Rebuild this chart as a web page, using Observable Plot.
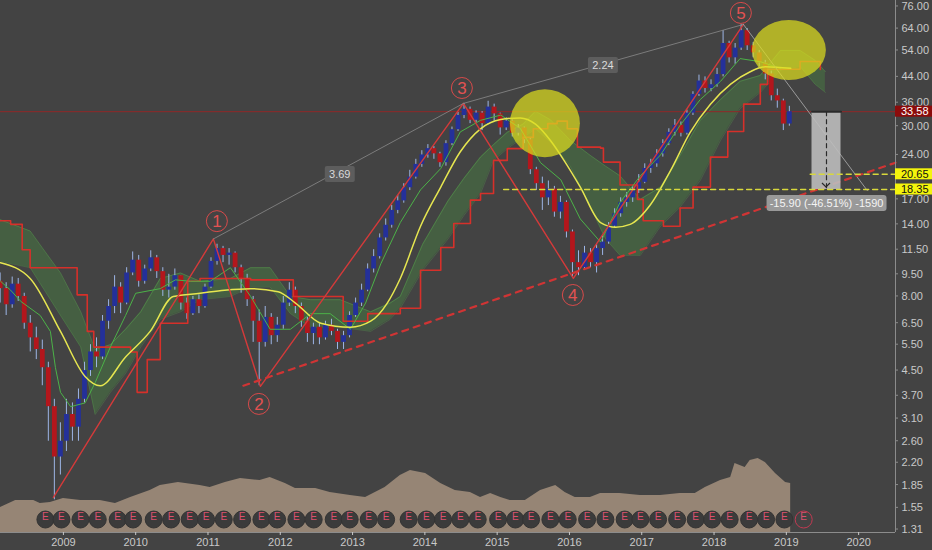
<!DOCTYPE html>
<html><head><meta charset="utf-8">
<script src="https://cdn.jsdelivr.net/npm/d3@7"></script>
<script src="https://cdn.jsdelivr.net/npm/@observablehq/plot@0.6"></script>
<style>
html,body{margin:0;padding:0;background:#434343;}
#chart{position:relative;width:932px;height:550px;background:#434343;overflow:hidden;}
#chart svg{position:absolute;left:0;top:0;}
</style></head><body><div id="chart"></div>
<script>
// ---------- DATA ----------
const firstOpen = 9.0;
const closes = [8.5,7.5,8.8,8.0,6.5,5.8,5.3,4.6,3.4,2.3,2.6,3.2,
 2.9,3.6,4.5,5.2,5.0,6.6,7.4,8.6,7.6,9.6,10.6,9.0,
 9.9,10.8,9.7,8.4,8.6,9.4,7.6,7.0,7.8,7.4,8.6,10.5,
 11.6,11.0,11.2,10.0,9.2,7.8,6.6,5.6,6.8,5.9,6.4,7.6,
 8.4,7.4,6.6,6.0,6.3,5.8,6.4,6.1,5.6,5.9,6.9,7.6,
 8.4,9.9,10.9,12.6,13.9,15.6,16.8,18.6,20.2,22.3,24.0,25.2,
 24.2,22.6,26.2,29.2,32.6,34.2,31.4,33.2,30.6,34.8,33.0,29.6,
 31.2,28.4,29.6,27.0,21.4,19.2,17.2,18.4,15.4,16.6,13.2,10.4,
 10.0,11.2,10.4,11.6,12.2,13.8,15.2,16.6,17.2,18.2,19.4,21.6,
 22.4,24.2,26.2,28.6,30.2,28.4,33.2,38.4,42.6,40.2,41.4,44.8,
 57.0,51.0,55.0,63.0,56.0,53.0,49.0,45.0,38.0,36.5,30.5,33.58];
const highs = [9.6,8.9,9.3,9.2,8.2,6.9,6.3,5.7,4.8,3.6,3.0,3.6,
 3.5,3.9,4.8,5.5,5.8,6.9,7.8,9.4,8.9,10.0,11.3,11.0,
 10.2,11.4,11.0,10.0,9.5,9.9,9.4,7.9,8.0,8.1,8.8,10.8,
 12.0,11.8,11.6,11.3,10.2,9.5,8.0,7.2,7.4,7.0,6.8,8.0,
 8.9,8.6,7.6,6.8,6.5,6.5,6.6,6.7,6.2,6.1,7.1,7.9,
 8.8,10.3,11.5,13.0,14.6,16.2,17.5,19.2,21.3,23.2,24.8,26.0,
 25.6,24.5,26.8,29.8,33.4,35.8,34.8,33.8,33.6,36.4,35.6,33.2,
 32.0,31.5,30.4,29.8,27.4,21.8,20.2,19.6,18.8,17.4,16.8,13.4,
 11.4,11.8,11.6,12.0,12.8,14.2,15.8,17.2,17.9,18.8,20.6,22.4,
 23.2,25.0,27.0,29.4,31.6,31.0,34.0,39.2,44.6,44.0,43.0,47.0,
 63.0,58.0,57.0,66.0,64.0,57.5,54.0,50.0,46.0,40.0,37.0,35.0];
const lows = [7.6,6.9,7.3,7.7,6.2,5.2,4.9,4.0,2.6,1.65,2.0,2.4,
 2.6,2.6,3.5,4.3,4.6,4.9,6.2,7.0,7.0,7.5,9.4,8.6,
 8.8,9.7,9.2,8.0,7.9,8.4,7.2,6.7,6.9,7.0,7.3,8.5,
 10.2,10.4,10.2,9.6,8.2,7.4,5.6,4.0,5.4,5.5,5.6,6.2,
 7.4,7.0,6.3,5.6,5.5,5.5,5.7,5.9,5.3,5.3,5.8,6.8,
 7.4,8.3,9.6,10.7,12.3,13.6,15.2,16.5,18.2,19.9,21.8,23.4,
 23.2,21.8,22.0,25.8,28.8,31.8,30.6,30.8,29.0,30.4,31.2,28.0,
 29.0,27.6,27.8,26.2,20.6,18.2,15.6,16.2,14.8,14.6,12.6,9.3,
 9.4,9.8,10.0,9.6,11.0,12.0,13.6,14.8,16.0,16.6,17.8,19.2,
 20.8,21.8,23.6,25.8,27.8,27.6,28.0,32.6,37.8,38.8,39.2,40.6,
 44.0,49.0,48.5,54.0,54.0,51.0,47.5,43.0,36.5,34.5,29.0,30.0];

const maDates  = [2008.13,2008.54,2008.96,2009.30,2009.51,2009.86,2010.20,2010.52,2010.89,2011.23,2011.59,2011.97,2012.21,2012.56,2012.97,2013.25,2013.48,2013.66,2013.94,2014.22,2014.49,2014.77,2015.05,2015.32,2015.53,2015.74,2015.94,2016.15,2016.43,2016.64,2016.84,2017.12,2017.40,2017.67,2017.95,2018.23,2018.50,2018.71,2019.06];
const maValues = [10.4,9.2,6.1,4.3,4.0,5.0,6.1,8.0,8.2,8.4,8.5,8.3,7.6,6.5,6.3,6.6,7.6,9.2,13.8,18.7,24.6,29.4,31.6,32.0,30.5,26.8,22.7,18.7,14.2,13.7,14.0,16.3,21.3,28.6,35.6,41.6,45.8,47.6,47.0];

const baseDates  = [2008.13,2008.27,2008.41,2008.68,2008.82,2008.89,2008.96,2009.10,2009.30,2009.44,2009.65,2009.86,2010.00,2010.34,2010.55,2010.76,2011.03,2011.31,2011.59,2011.86,2012.14,2012.42,2012.69,2012.97,2013.18,2013.39,2013.66,2013.94,2014.22,2014.49,2014.77,2015.05,2015.32,2015.60,2015.88,2016.15,2016.43,2016.70,2016.98,2017.26,2017.53,2017.81,2018.09,2018.36,2018.64,2018.92];
const baseValues = [9.0,8.4,7.7,6.9,6.1,4.6,3.8,3.4,3.5,4.1,5.4,6.9,8.2,8.5,9.1,9.0,9.0,10.0,8.0,6.2,6.2,7.0,7.0,6.2,7.6,10.3,14.2,18.3,21.6,28.7,31.4,32.7,29.5,22.6,19.8,14.6,12.2,16.6,20.4,24.0,30.2,36.9,42.5,50.7,49.5,47.0];

const spanDates  = [2008.13,2008.27,2008.43,2008.54,2009.00,2009.19,2009.33,2009.42,2009.86,2009.93,2010.02,2010.16,2010.34,2010.72,2010.89,2011.59,2012.04,2012.18,2012.76,2012.87,2013.18,2013.21,2013.66,2013.94,2014.22,2014.40,2014.63,2014.77,2014.95,2015.14,2015.36,2015.50,2015.70,2015.83,2015.97,2016.11,2016.43,2016.47,2016.70,2016.94,2017.02,2017.30,2017.53,2017.71,2017.95,2018.19,2018.41,2018.64,2018.74,2019.19,2019.47];
const spanValues = [14.4,14.0,11.5,10.0,10.0,8.1,6.1,5.4,5.4,5.2,3.8,4.9,6.5,9.0,9.2,9.1,9.1,8.0,8.0,6.6,6.6,7.0,7.3,9.8,11.7,14.1,16.9,17.8,23.0,25.2,27.5,29.4,30.6,31.2,29.4,25.5,25.3,22.7,19.0,17.0,14.4,13.8,15.9,18.7,23.6,28.8,35.6,41.5,46.7,49.6,46.6];

const cloudDates  = [2008.13,2008.54,2008.96,2009.24,2009.44,2009.65,2009.86,2010.07,2010.34,2010.62,2010.89,2011.31,2011.59,2011.86,2012.14,2012.42,2012.83,2013.25,2013.52,2013.66,2013.97,2014.32,2014.54,2014.77,2014.95,2015.14,2015.36,2015.53,2015.74,2016.01,2016.29,2016.50,2016.70,2016.98,2017.26,2017.53,2017.81,2018.09,2018.36,2018.64,2018.92,2019.19,2019.40,2019.54];
const cloudTop    = [14.5,13.3,9.6,7.1,5.3,5.5,6.2,7.1,9.2,9.6,9.0,9.2,10.0,10.0,8.0,7.8,7.8,7.1,7.6,8.0,12.0,16.8,20.0,23.6,26.0,28.6,30.5,33.7,31.5,26.9,23.9,22.0,20.4,17.0,18.7,23.9,31.4,36.9,42.5,44.5,54.0,54.0,50.0,45.8];
const cloudBottom = [10.5,10.0,6.9,5.4,3.2,3.8,4.4,5.4,6.7,7.1,7.8,8.0,8.6,8.6,7.0,6.3,6.3,6.1,6.7,7.3,9.8,12.5,15.0,17.8,23.0,25.2,27.5,29.4,26.5,22.0,16.0,12.5,11.0,11.0,13.8,16.0,19.7,26.9,34.4,39.0,46.4,47.7,41.5,39.0];

const volDates  = [2008.13,2008.34,2008.59,2008.68,2008.82,2009.00,2009.24,2009.51,2009.72,2009.93,2010.20,2010.34,2010.59,2010.89,2011.03,2011.24,2011.45,2011.72,2011.86,2012.07,2012.21,2012.49,2012.69,2012.97,2013.18,2013.45,2013.66,2013.80,2014.01,2014.22,2014.42,2014.63,2014.77,2014.91,2015.05,2015.18,2015.39,2015.60,2015.81,2015.94,2016.08,2016.29,2016.43,2016.70,2016.98,2017.26,2017.53,2017.74,2017.88,2018.09,2018.23,2018.29,2018.43,2018.50,2018.61,2018.71,2018.85,2018.99,2019.06];
const volValues = [25,32,32,29,30,34,32,32,29,35,42,47,50,47,45,50,54,52,55,49,44,44,40,37,35,45,57,62,59,49,42,40,35,39,35,32,32,42,47,40,35,35,39,39,37,37,39,39,45,52,55,69,65,72,74,70,59,50,49];

const earnings = [2008.751,2008.973,2009.236,2009.475,2009.751,2009.964,2010.249,2010.490,2010.747,2010.974,2011.218,2011.472,2011.739,2011.956,2012.223,2012.462,2012.739,2012.960,2013.223,2013.464,2013.776,2014.021,2014.252,2014.491,2014.731,2015.013,2015.252,2015.469,2015.736,2015.976,2016.244,2016.497,2016.764,2016.981,2017.226,2017.489,2017.746,2017.973,2018.216,2018.485,2018.720,2018.973];
const nextEarning = [2019.240];

const wavePointDates  = [2008.862,2011.075,2011.725,2014.533,2016.054,2018.406];
const wavePointPrices = [1.68,12.5,3.98,35.8,9.2,66.1];
const waveNames       = ["1","2","3","4","5"];
const waveLabelDates  = [2011.130,2011.711,2014.519,2016.054,2018.378];
const waveLabelPrices = [14.3,3.46,40.2,8.06,72.0];
const ratioTexts  = ["3.69","2.24"];
const ratioDates  = [2012.83,2016.47];
const ratioPrices = [20.6,48.1];
const projDates  = [2018.406,2020.12];
const projPrices = [66.1,18.2];
const trendDates  = [2011.49,2020.51];
const trendPrices = [4.0,22.6];

const resistance = 33.58;
const targets = [20.65,18.35];
const targetStarts = [2019.33,2015.09];
const measureDates  = [2019.355,2019.756];
const measurePrices = [33.58,18.35];
const measureText = "-15.90 (-46.51%) -1590";
const measureLabelDate = 2019.563, measureLabelPrice = 16.47;
const highlightDates  = [2015.667,2019.042];
const highlightPrices = [30.6,54.0];

const yTicks = [1.31,1.55,1.85,2.2,2.6,3.1,3.7,4.5,5.5,6.5,8,9.5,11.5,14,17,24,30,36,44,54,64,76];
const yearTicks = [2009,2010,2011,2012,2013,2014,2015,2016,2017,2018,2019,2020];

// ---------- BUILD ----------
const W = 932, H = 550;
const xDomain = [2008.13, 2020.51];
const yDomain = [1.28, 79.6];
const font = "'Liberation Sans', Arial, sans-serif";
const axisColor = "#c9c9c9";
const frame = {width: W, height: H, marginTop: 0, marginBottom: 18, marginLeft: 0, marginRight: 37};

const candles = closes.map((c, i) => ({
  date: 2008 + (i + 1.5) / 12,
  open: i ? closes[i - 1] : firstOpen, close: c, high: highs[i], low: lows[i]
}));
const zip = (d, v) => d.map((x, i) => ({date: x, value: v[i]}));
const maRows = zip(maDates, maValues);
const baseRows = zip(baseDates, baseValues);
const spanRows = zip(spanDates, spanValues);
const cloudRows = cloudDates.map((d, i) => ({date: d, top: cloudTop[i], bottom: cloudBottom[i]}));
const volRows = zip(volDates, volValues);
const waveRows = zip(wavePointDates, wavePointPrices);
const seg = (a, b) => [{date: a[0], value: a[1]}, {date: b[0], value: b[1]}];
const tickRows = yTicks.map(t => ({date: xDomain[1], value: t}));

const volPlot = Plot.plot({
  ...frame,
  style: {background: "transparent"},
  x: {domain: xDomain, axis: null},
  y: {domain: [0, 532], axis: null},
  marks: [Plot.areaY(volRows, {x: "date", y: "value", fill: "#968575"})]
});

const plot = Plot.plot({
  ...frame,
  style: {background: "transparent", color: axisColor, fontFamily: font, fontSize: "11px"},
  x: {domain: xDomain},
  y: {type: "log", domain: yDomain, axis: null},
  marks: [
    Plot.areaY(cloudRows, {x: "date", y1: "bottom", y2: "top", fill: "#4a9a42", fillOpacity: 0.32}),
    Plot.line(cloudRows, {x: "date", y: "top", stroke: "#5cae50", strokeWidth: 0.8, strokeOpacity: 0.5}),
    Plot.line(cloudRows, {x: "date", y: "bottom", stroke: "#5cae50", strokeWidth: 0.8, strokeOpacity: 0.35}),
    Plot.line(seg([xDomain[0], resistance], [xDomain[1], resistance]), {x: "date", y: "value", stroke: "#902828", strokeWidth: 1}),
    Plot.ruleX(candles, {x: "date", y1: "low", y2: "high", stroke: "#9db5e6", strokeWidth: 1}),
    Plot.ruleX(candles, {x: "date", y1: "open", y2: "close", strokeWidth: 4.8,
      stroke: d => d.close >= d.open ? "#24309a" : "#b3161c"}),
    Plot.line(spanRows, {x: "date", y: "value", stroke: "#d6302a", strokeWidth: 1.6, curve: "step-after"}),
    Plot.line(baseRows, {x: "date", y: "value", stroke: "#4cb248", strokeWidth: 1}),
    Plot.line(maRows, {x: "date", y: "value", stroke: "#e6e650", strokeWidth: 1.5, curve: "monotone-x"}),
    Plot.line(waveRows, {x: "date", y: "value", stroke: "#d43a3a", strokeWidth: 1.4}),
    Plot.line(seg([wavePointDates[1], wavePointPrices[1]], [wavePointDates[3], wavePointPrices[3]]), {x: "date", y: "value", stroke: "#8a8a8a", strokeWidth: 0.8}),
    Plot.line(seg([wavePointDates[3], wavePointPrices[3]], [wavePointDates[5], wavePointPrices[5]]), {x: "date", y: "value", stroke: "#8a8a8a", strokeWidth: 0.8}),
    Plot.line(seg([projDates[0], projPrices[0]], [projDates[1], projPrices[1]]), {x: "date", y: "value", stroke: "#a5a5a5", strokeWidth: 0.9}),
    Plot.line(seg([trendDates[0], trendPrices[0]], [trendDates[1], trendPrices[1]]), {x: "date", y: "value", stroke: "#d03434", strokeWidth: 2.2, strokeDasharray: "6,6"}),
    Plot.rect([{x1: measureDates[0], x2: measureDates[1], y1: measurePrices[1], y2: measurePrices[0]}], {x1: "x1", x2: "x2", y1: "y1", y2: "y2", fill: "#bdbdbd", fillOpacity: 0.9}),
    Plot.line(seg([measureDates[0], measurePrices[0]], [measureDates[1], measurePrices[0]]), {x: "date", y: "value", stroke: "#2a2a2a", strokeWidth: 2}),
    Plot.line(seg([(measureDates[0] + measureDates[1]) / 2, measurePrices[0]], [(measureDates[0] + measureDates[1]) / 2, measurePrices[1]]), {x: "date", y: "value", stroke: "#2a2a2a", strokeWidth: 1.2, strokeDasharray: "4,4"}),
    ...targets.map((t, i) => Plot.line(seg([targetStarts[i], t], [xDomain[1], t]), {x: "date", y: "value", stroke: "#d8d83c", strokeWidth: 1.5, strokeDasharray: "5,4"})),
    Plot.dot(earnings, {x: d => d, frameAnchor: "bottom", dy: -13, r: 8.5, fill: "#3b3b3b", stroke: "#333", strokeWidth: 1}),
    Plot.dot(nextEarning, {x: d => d, frameAnchor: "bottom", dy: -13, r: 8.5, fill: "none", stroke: "#c23a52", strokeWidth: 1}),
    Plot.text(earnings.concat(nextEarning), {x: d => d, text: () => "E", frameAnchor: "bottom", dy: -13, fill: "#dc506e", fontSize: 10}),
    Plot.ruleY([yDomain[0]], {stroke: "#8c8c8c"}),
    Plot.ruleX([xDomain[1]], {stroke: "#8c8c8c"}),
    Plot.axisX({ticks: yearTicks, tickFormat: d => String(d), tickSize: 3, tickPadding: 3, label: null}),
    // price axis labels on the log y scale (placed in the right margin)
    Plot.text(tickRows, {x: "date", y: "value", dx: 6, textAnchor: "start", text: d => d.value.toFixed(2), fill: axisColor, fontSize: 11})
  ]
});

const chart = document.getElementById("chart");
chart.appendChild(volPlot);
chart.appendChild(plot);

const sx = plot.scale("x"), sy = plot.scale("y");
const svg = d3.select(plot);
const g = svg.append("g").attr("text-anchor", "middle");
const xr = sx.apply(xDomain[1]);
yTicks.forEach(p => {
  const y = sy.apply(p);
  g.append("line").attr("x1", xr).attr("x2", xr + 3).attr("y1", y).attr("y2", y).attr("stroke", "#8c8c8c");
});
const rx = [35, 37], ry = [34, 30];
highlightDates.forEach((d, i) => {
  g.append("ellipse").attr("cx", sx.apply(d)).attr("cy", sy.apply(highlightPrices[i]))
    .attr("rx", rx[i]).attr("ry", ry[i]).attr("fill", "#dcdc1e").attr("fill-opacity", 0.72);
});
waveNames.forEach((n, i) => {
  const cx = sx.apply(waveLabelDates[i]), cy = sy.apply(waveLabelPrices[i]);
  g.append("circle").attr("cx", cx).attr("cy", cy).attr("r", 10.5)
    .attr("fill", "none").attr("stroke", "#d84a4a").attr("stroke-width", 1);
  g.append("text").attr("x", cx).attr("y", cy).attr("dy", "0.36em")
    .attr("font-family", font).attr("font-size", 17).attr("fill", "#e25252").text(n);
});
ratioTexts.forEach((t, i) => {
  const cx = sx.apply(ratioDates[i]), cy = sy.apply(ratioPrices[i]);
  g.append("rect").attr("x", cx - 15).attr("y", cy - 8).attr("width", 30).attr("height", 16)
    .attr("rx", 2).attr("fill", "#5d5d5d");
  g.append("text").attr("x", cx).attr("y", cy).attr("dy", "0.36em")
    .attr("font-family", font).attr("font-size", 11).attr("fill", "#dadada").text(t);
});
{
  const mx = sx.apply((measureDates[0] + measureDates[1]) / 2), my = sy.apply(measurePrices[1]);
  g.append("path").attr("d", `M${mx - 4},${my - 6}L${mx},${my - 2}L${mx + 4},${my - 6}`)
    .attr("fill", "none").attr("stroke", "#2a2a2a").attr("stroke-width", 1.2);
  const cx = sx.apply(measureLabelDate), cy = sy.apply(measureLabelPrice);
  g.append("rect").attr("x", cx - 60).attr("y", cy - 8).attr("width", 120).attr("height", 16)
    .attr("rx", 3).attr("fill", "#999999");
  g.append("text").attr("x", cx).attr("y", cy).attr("dy", "0.36em")
    .attr("font-family", font).attr("font-size", 11).attr("fill", "#f4f4f4").text(measureText);
}
const axisMarks = [resistance, ...targets];
const markBg = ["#8c0b0b", "#f4f40c", "#f4f40c"], markFg = ["#ffffff", "#111111", "#111111"];
axisMarks.forEach((p, i) => {
  const cy = sy.apply(p);
  g.append("rect").attr("x", xr).attr("y", cy - 5.5).attr("width", W - xr).attr("height", 11).attr("fill", markBg[i]);
  g.append("text").attr("x", xr + 6).attr("y", cy).attr("dy", "0.36em").attr("text-anchor", "start")
    .attr("font-family", font).attr("font-size", 11).attr("fill", markFg[i]).text(p.toFixed(2));
});
</script></body></html>
